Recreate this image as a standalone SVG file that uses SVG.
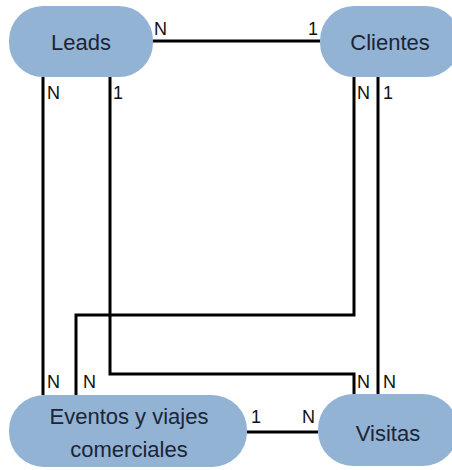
<svg xmlns="http://www.w3.org/2000/svg" width="452" height="470" viewBox="0 0 452 470">
<style>
.node{fill:#93b3d5;stroke:none}
.nt{font-family:"Liberation Sans",Arial,sans-serif;font-size:22px;fill:#1b2536;text-anchor:middle}
.lbl{font-family:"Liberation Sans",Arial,sans-serif;font-size:18px;fill:#111}
.edge{fill:none;stroke:#000;stroke-width:3}
</style>
<rect width="452" height="470" fill="#fff"/>
<g id="connectors">
<path class="edge" d="M153 41 H320"/>
<path class="edge" d="M43 77 V395"/>
<path class="edge" d="M110 77 V374 H354 V394"/>
<path class="edge" d="M354 77 V315 H76 V395"/>
<path class="edge" d="M378 77 V394"/>
<path class="edge" d="M247 432 H318"/>
<text class="lbl" x="154" y="35">N</text>
<text class="lbl" x="308" y="35">1</text>
<text class="lbl" x="47" y="99">N</text>
<text class="lbl" x="113" y="99">1</text>
<text class="lbl" x="357" y="99">N</text>
<text class="lbl" x="383" y="99">1</text>
<text class="lbl" x="47" y="388">N</text>
<text class="lbl" x="83" y="388">N</text>
<text class="lbl" x="357" y="388">N</text>
<text class="lbl" x="383" y="388">N</text>
<text class="lbl" x="251" y="423">1</text>
<text class="lbl" x="302" y="423">N</text>
</g>
<g id="leads">
<rect class="node" x="9" y="6" width="144" height="71" rx="34" ry="34"/>
<text class="nt" x="81" y="50">Leads</text>
</g>
<g id="clientes">
<rect class="node" x="320" y="6" width="140" height="71" rx="34" ry="34"/>
<text class="nt" x="390" y="50">Clientes</text>
</g>
<g id="eventos">
<rect class="node" x="9" y="395" width="238" height="72" rx="35" ry="35"/>
<text class="nt" x="129" y="424">Eventos y viajes</text>
<text class="nt" x="129" y="457">comerciales</text>
</g>
<g id="visitas">
<rect class="node" x="318" y="394" width="140" height="72" rx="35" ry="35"/>
<text class="nt" x="388" y="441">Visitas</text>
</g>
</svg>
